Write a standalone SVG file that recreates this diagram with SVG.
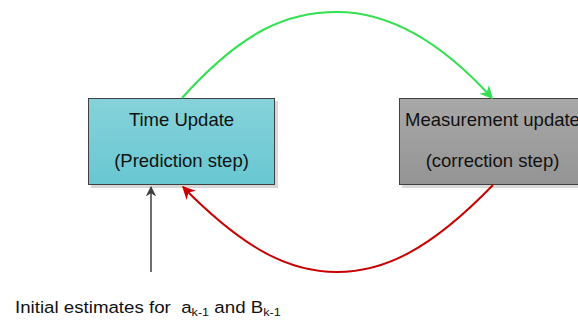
<svg xmlns="http://www.w3.org/2000/svg" width="578" height="320" viewBox="0 0 578 320">
<defs>
<linearGradient id="gTeal" x1="0" y1="0" x2="0" y2="1"><stop offset="0" stop-color="#86d2da"/><stop offset="1" stop-color="#68c7d2"/></linearGradient>
<linearGradient id="gGray" x1="0" y1="0" x2="0" y2="1"><stop offset="0" stop-color="#a8a8a8"/><stop offset="1" stop-color="#949494"/></linearGradient>
<marker id="aGreen" viewBox="0 0 10 10" refX="9" refY="5" markerWidth="6.5" markerHeight="6.5" orient="auto" markerUnits="strokeWidth"><path d="M0,0 L10,5 L0,10 L3,5 z" fill="#33e050"/></marker>
<marker id="aRed" viewBox="0 0 10 10" refX="9" refY="5" markerWidth="6.5" markerHeight="6.5" orient="auto" markerUnits="strokeWidth"><path d="M0,0 L10,5 L0,10 L3,5 z" fill="#c80000"/></marker>
<marker id="aBlack" viewBox="0 0 10 10" refX="9" refY="5" markerWidth="7" markerHeight="7" orient="auto" markerUnits="strokeWidth"><path d="M0,0 L10,5 L0,10 L3,5 z" fill="#404040"/></marker>
</defs>
<style>
.box{stroke:#404040;stroke-width:1}
.shadow{fill:#d8d8d8}
.t{font-family:"Liberation Sans",Arial,sans-serif;font-size:18.5px;fill:#111;text-anchor:middle}
.lbl{font-family:"Liberation Sans",Arial,sans-serif;font-size:17px;fill:#111}
.sub{font-size:11.5px}
</style>
<g id="time-update">
<rect class="shadow" x="91" y="101" width="187" height="87"/>
<rect class="box" x="88.5" y="98.5" width="186" height="86" fill="url(#gTeal)"/>
<text class="t" x="181.5" y="126">Time Update</text>
<text class="t" x="181.5" y="167">(Prediction step)</text>
</g>
<g id="measurement-update">
<rect class="shadow" x="402" y="101" width="187" height="87"/>
<rect class="box" x="399.5" y="98.5" width="186" height="86" fill="url(#gGray)"/>
<text class="t" x="492.5" y="126">Measurement update</text>
<text class="t" x="492.5" y="167">(correction step)</text>
</g>
<g id="initial-label" transform="translate(15,313) scale(1.1,1)">
<text class="lbl" x="0" y="0" xml:space="preserve">Initial estimates for  a<tspan class="sub" dy="3">k-1</tspan><tspan dy="-3"> and B</tspan><tspan class="sub" dy="3">k-1</tspan></text>
</g>
<g id="connectors" fill="none">
<path d="M182,98 C245,28 290,12 337,12 C384,12 435,35 492,98" stroke="#33e050" stroke-width="2" marker-end="url(#aGreen)"/>
<path d="M493,185 C430,250 384,272 337,272 C290,272 245,250 183,187" stroke="#c80000" stroke-width="2" marker-end="url(#aRed)"/>
<path d="M151,272 L151,187" stroke="#404040" stroke-width="1.5" marker-end="url(#aBlack)"/>
</g>
</svg>
